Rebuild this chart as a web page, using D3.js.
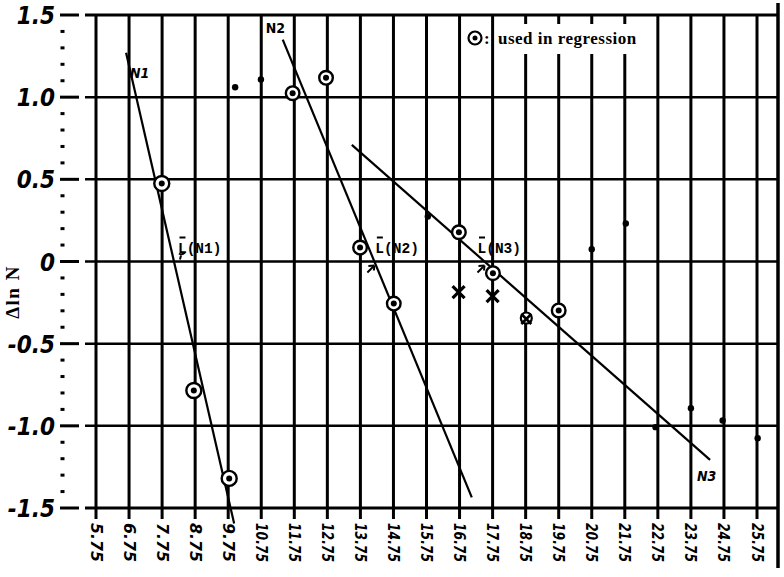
<!DOCTYPE html>
<html><head><meta charset="utf-8">
<script src="https://cdn.jsdelivr.net/npm/d3@7/dist/d3.min.js"></script>
<style>
body{margin:0;background:#fff}
svg{display:block}
.tick{font-family:"Liberation Sans Narrow","DejaVu Sans Condensed","Liberation Sans",sans-serif;font-weight:bold;font-style:italic}
</style>
</head><body>
<svg id="chart" width="784" height="577"></svg>
<script>
// ---------- data ----------
const xTickValues = [5.75,6.75,7.75,8.75,9.75,10.75,11.75,12.75,13.75,14.75,15.75,16.75,17.75,18.75,19.75,20.75,21.75,22.75,23.75,24.75,25.75];
const xTickLabels = ["5.75","6.75","7.75","8.75","9.75","10.75","11.75","12.75","13.75","14.75","15.75","16.75","17.75","18.75","19.75","20.75","21.75","22.75","23.75","24.75","25.75"];
const yTickValues = [1.5,1.0,0.5,0,-0.5,-1.0,-1.5];
const yTickLabels = ["1.5","1.0","0.5","0","-0.5","-1.0","-1.5"];
const yMinorValues = [1.4,1.3,1.2,1.1,0.9,0.8,0.7,0.6,0.4,0.3,0.2,0.1,-0.1,-0.2,-0.3,-0.4,-0.6,-0.7,-0.8,-0.9,-1.1,-1.2,-1.3,-1.4];

// points used in regression (circled)
const regX = [7.74, 8.71, 9.78, 11.70, 12.71, 13.74, 14.76, 16.73, 17.76, 19.75];
const regY = [0.475, -0.785, -1.32, 1.024, 1.118, 0.085, -0.256, 0.178, -0.071, -0.298];
// other points (plain dots)
const dotX = [9.96, 10.74, 15.79, 20.75, 21.78, 22.68, 23.75, 24.71, 25.77];
const dotY = [1.06, 1.108, 0.274, 0.075, 0.231, -1.008, -0.893, -0.968, -1.075];
// crosses
const crossX = [16.72, 17.75];
const crossY = [-0.187, -0.211];
// circled cross
const ccrossX = [18.77];
const ccrossY = [-0.35];

// regression lines
const lineNames = ["N1", "N2", "N3"];
const lineX1 = [6.66, 11.40, 13.49];
const lineY1 = [1.27, 1.35, 0.71];
const lineX2 = [9.93, 17.12, 24.33];
const lineY2 = [-1.595, -1.435, -1.207];
const lbarLabels = ["(N1)", "(N2)", "(N3)"];

const legendText = "used in regression";
const yTitle = "\u0394ln N";

// ---------- drawing ----------
const svg = d3.select("#chart");
const x = d3.scaleLinear().domain([5.75, 25.75]).range([96, 757]);
const y = d3.scaleLinear().domain([-1.5, 1.5]).range([508, 15]);
const ink = "#000";

// vertical grid lines
svg.append("g").selectAll("line").data(xTickValues).join("line")
  .attr("x1", d => x(d)).attr("x2", d => x(d))
  .attr("y1", y(1.5)).attr("y2", y(-1.5) + 11)
  .attr("stroke", ink).attr("stroke-width", 3);

// horizontal grid lines
svg.append("g").selectAll("line").data(yTickValues).join("line")
  .attr("x1", 85).attr("x2", 779)
  .attr("y1", d => y(d)).attr("y2", d => y(d))
  .attr("stroke", ink).attr("stroke-width", d => (d === 1.5 || d === -1.5) ? 3 : 2.5);

// right border
svg.append("line").attr("x1", 778).attr("x2", 778).attr("y1", 3).attr("y2", 568)
  .attr("stroke", ink).attr("stroke-width", 3.5);

// y major ticks
svg.append("g").selectAll("line").data(yTickValues).join("line")
  .attr("x1", 60).attr("x2", 79)
  .attr("y1", d => y(d)).attr("y2", d => y(d))
  .attr("stroke", ink).attr("stroke-width", 3);

// y minor ticks (dots)
svg.append("g").selectAll("rect").data(yMinorValues).join("rect")
  .attr("x", 60.5).attr("y", d => y(d) - 1.5).attr("width", 4).attr("height", 3)
  .attr("fill", ink);

// y labels
svg.append("g").selectAll("text").data(yTickValues).join("text")
  .attr("class", "tick")
  .attr("x", 55).attr("y", d => y(d) + 1)
  .attr("text-anchor", "end").attr("dominant-baseline", "central")
  .attr("font-size", 24)
  .text((d, i) => yTickLabels[i]);

// x labels (rotated)
svg.append("g").selectAll("text").data(xTickValues).join("text")
  .attr("class", "tick")
  .attr("transform", d => `translate(${x(d)},${y(-1.5) + 15}) rotate(90)`)
  .attr("text-anchor", "start").attr("dominant-baseline", "central")
  .attr("font-size", 16)
  .attr("textLength", 39).attr("lengthAdjust", "spacingAndGlyphs")
  .text((d, i) => xTickLabels[i]);

// y title
svg.append("text")
  .attr("transform", `translate(19,${292}) rotate(-90)`)
  .attr("text-anchor", "middle")
  .attr("font-family", "Liberation Serif, serif").attr("font-weight", "bold")
  .attr("font-size", 19).attr("letter-spacing", 1.5)
  .text(yTitle);

// legend (white gap in grid)
svg.append("rect").attr("x", 497).attr("y", 24).attr("width", 146).attr("height", 30).attr("fill", "#fff");
svg.append("circle").attr("cx", 475).attr("cy", 38).attr("r", 6.5)
  .attr("fill", "#fff").attr("stroke", ink).attr("stroke-width", 2.2);
svg.append("circle").attr("cx", 475).attr("cy", 38).attr("r", 2.5).attr("fill", ink);
svg.append("text").attr("x", 484).attr("y", 44)
  .attr("font-family", "Liberation Serif, serif").attr("font-weight", "bold").attr("font-size", 17)
  .text(":");
svg.append("text").attr("x", 498).attr("y", 44)
  .attr("font-family", "Liberation Serif, serif").attr("font-weight", "bold").attr("font-size", 17)
  .attr("letter-spacing", 0.5)
  .text(legendText);

// regression lines
const lines = lineNames.map((n, i) => ({ n, x1: lineX1[i], y1: lineY1[i], x2: lineX2[i], y2: lineY2[i] }));
svg.append("g").selectAll("line").data(lines).join("line")
  .attr("x1", d => x(d.x1)).attr("y1", d => y(d.y1))
  .attr("x2", d => x(d.x2)).attr("y2", d => y(d.y2))
  .attr("stroke", ink).attr("stroke-width", 2.2);

// line name labels
const nameOffsets = [[4, 25, "italic"], [-17, -7, "normal"], [-13, 21, "italic"]];
lines.forEach((d, i) => {
  const base = i === 2 ? [x(d.x2), y(d.y2)] : [x(d.x1), y(d.y1)];
  svg.append("text")
    .attr("x", base[0] + nameOffsets[i][0]).attr("y", base[1] + nameOffsets[i][1])
    .attr("font-family", "Liberation Sans Narrow, DejaVu Sans Condensed, sans-serif")
    .attr("font-weight", "bold").attr("font-style", nameOffsets[i][2])
    .attr("font-size", 14)
    .text(d.n);
});

// L-bar labels at zero crossings
const lbarOffsets = [4, 1, -7];
lines.forEach((d, i) => {
  const slope = (d.y2 - d.y1) / (d.x2 - d.x1);
  const xz = d.x1 - d.y1 / slope;
  const px = x(xz), py = y(0);
  const lx = px + lbarOffsets[i], ly = py - 9;
  const t = svg.append("text").attr("x", lx).attr("y", ly)
    .attr("font-family", "Liberation Mono, DejaVu Sans Mono, monospace")
    .attr("font-weight", "bold").attr("font-size", 14.5);
  t.append("tspan").text("L");
  t.append("tspan").text(lbarLabels[i]);
  svg.append("line").attr("x1", lx + 1.5).attr("x2", lx + 7.5)
    .attr("y1", ly - 15).attr("y2", ly - 15).attr("stroke", ink).attr("stroke-width", 2);
  if (i === 0) {
    svg.append("path")
      .attr("d", `M${lx + 1},${ly + 1} q3,2 6,-1 M${lx + 3},${ly + 3} l-1,4`)
      .attr("fill", "none").attr("stroke", ink).attr("stroke-width", 2);
  } else {
    svg.append("line").attr("x1", px - 7).attr("y1", py + 11).attr("x2", px - 1).attr("y2", py + 5)
      .attr("stroke", ink).attr("stroke-width", 2);
    svg.append("path").attr("d", `M${px},${py + 4} l-6,0.5 M${px},${py + 4} l-0.5,5`)
      .attr("stroke", ink).attr("stroke-width", 2).attr("fill", "none");
  }
});

// plain dots
svg.append("g").selectAll("circle").data(dotX).join("circle")
  .attr("cx", d => x(d)).attr("cy", (d, i) => y(dotY[i])).attr("r", 3.2)
  .attr("fill", ink);

// regression points
const reg = svg.append("g");
reg.selectAll("circle.o").data(regX).join("circle").attr("class", "o")
  .attr("cx", d => x(d)).attr("cy", (d, i) => y(regY[i]))
  .attr("r", (d, i) => i < 3 ? 7.5 : 6.8)
  .attr("fill", "#fff").attr("stroke", ink).attr("stroke-width", 2.4);
reg.selectAll("circle.i").data(regX).join("circle").attr("class", "i")
  .attr("cx", d => x(d)).attr("cy", (d, i) => y(regY[i]))
  .attr("r", 3).attr("fill", ink);

// crosses
const cr = svg.append("g");
crossX.forEach((cx, i) => {
  const px = x(cx), py = y(crossY[i]);
  cr.append("path").attr("d", `M${px - 6},${py - 6}L${px + 6},${py + 6}M${px - 6},${py + 6}L${px + 6},${py - 6}`)
    .attr("stroke", ink).attr("stroke-width", 3.2);
});
// circled cross
ccrossX.forEach((cx, i) => {
  const px = x(cx), py = y(ccrossY[i]);
  cr.append("circle").attr("cx", px).attr("cy", py - 1).attr("r", 5.5)
    .attr("fill", "#fff").attr("stroke", ink).attr("stroke-width", 2.2);
  cr.append("path").attr("d", `M${px - 5},${py - 5}L${px + 5},${py + 5}M${px - 5},${py + 5}L${px + 5},${py - 5}`)
    .attr("stroke", ink).attr("stroke-width", 2.6);
});
</script>
</body></html>
